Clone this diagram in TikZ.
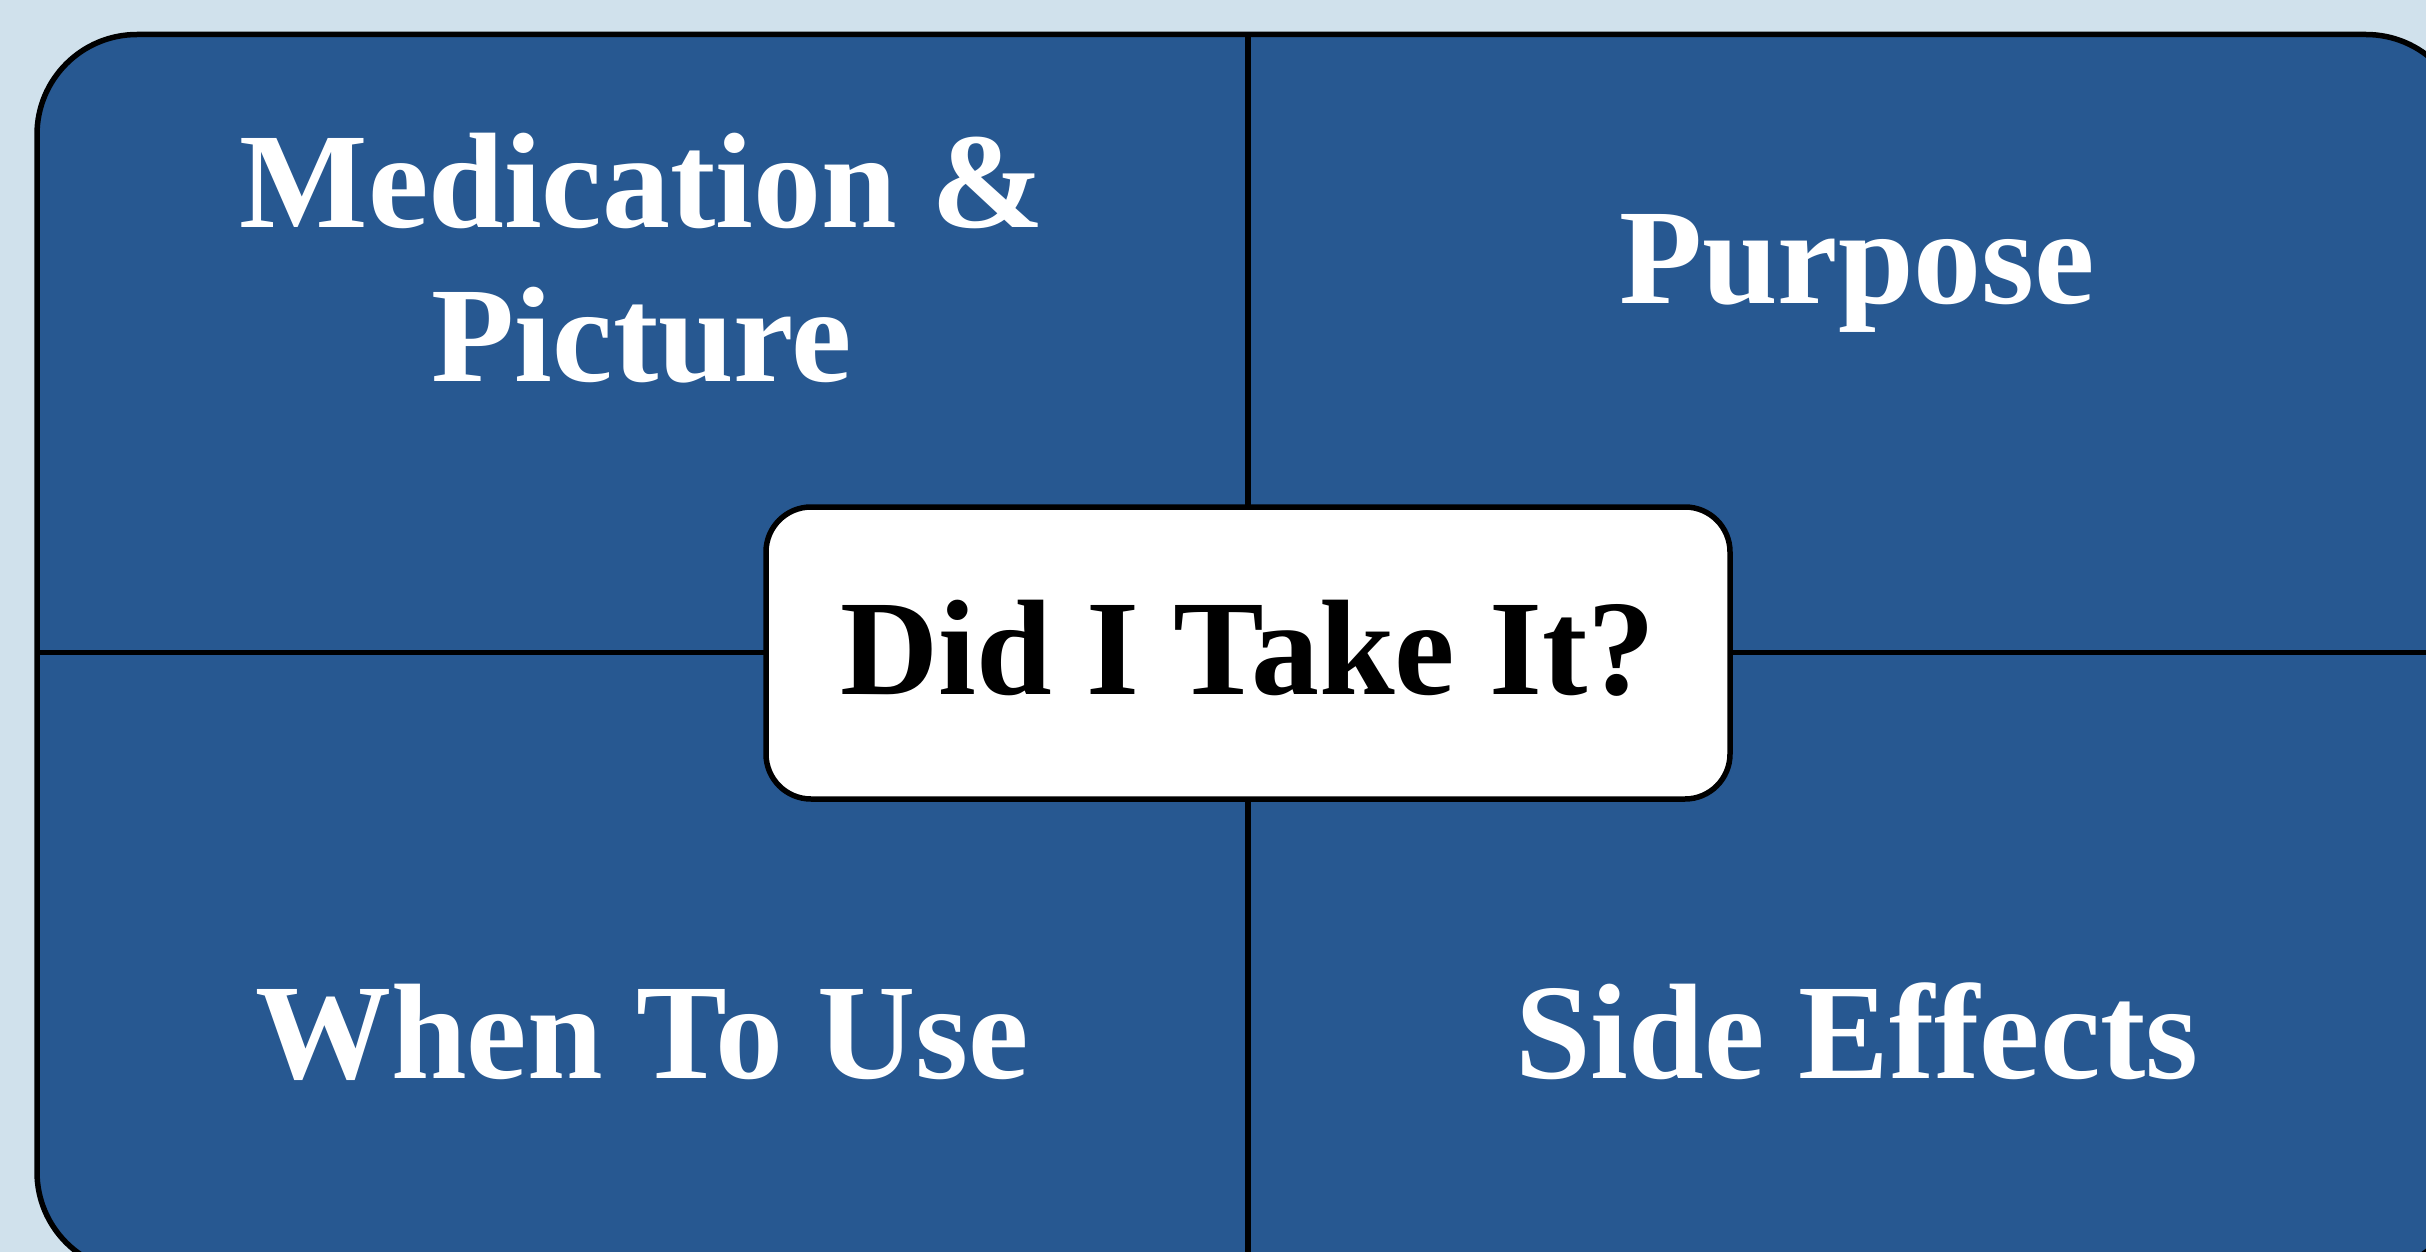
\documentclass[tikz,border=0pt]{standalone}
\usepackage{fontspec}
\setmainfont{Liberation Serif}
\definecolor{bgblue}{RGB}{208,225,236}
\definecolor{panelblue}{RGB}{39,88,145}
\tikzset{
  frame/.style={line width=2.75pt, draw=black},
  divider/.style={line width=2.75pt, draw=black},
  label/.style={text=white, font=\fontsize{68}{77}\selectfont\bfseries, align=center, inner sep=0pt},
  centerbox/.style={frame, fill=white, rounded corners=22.5pt, minimum width=482pt, minimum height=146pt, inner sep=0pt, font=\fontsize{68}{77}\selectfont\bfseries, text=black}
}
\begin{document}
\begin{tikzpicture}[x=0.5pt,y=-0.5pt]
\useasboundingbox (0,0) rectangle (2426,1252);
\fill[bgblue] (0,0) rectangle (2426,1252);
\clip (0,0) rectangle (2426,1252);
\draw[frame, fill=panelblue, rounded corners=50pt] (37,34.5) rectangle (2466,1272);
\coordinate (vtop) at (1248,34.5);
\coordinate (vbot) at (1248,1272);
\coordinate (hleft) at (37,652.7);
\coordinate (hright) at (2466,652.7);
\draw[divider] (vtop) -- (vbot);
\draw[divider] (hleft) -- (hright);
\node[centerbox, text depth=6pt] (center) at (1248,653) {Did I Take It?};
\node[label, anchor=base] (med) at (642,381) {Medication \&\\Picture};
\node[label, anchor=base] (purpose) at (1857,303) {Purpose};
\node[label, anchor=base] (when) at (642,1078) {When To Use};
\node[label, anchor=base] (side) at (1857,1078) {Side Effects};
\end{tikzpicture}
\end{document}
